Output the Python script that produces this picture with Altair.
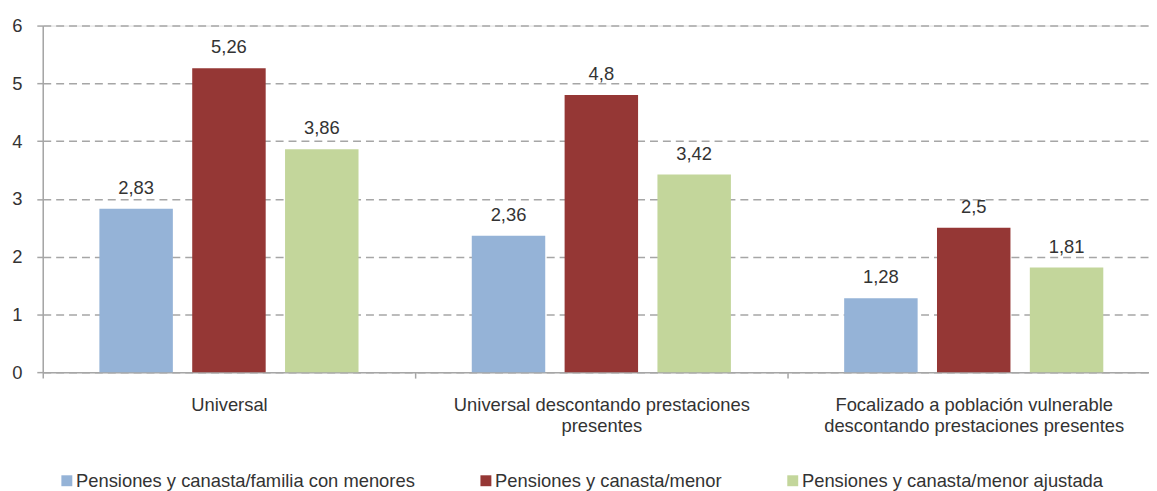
import altair as alt
import pandas as pd

# --- data -------------------------------------------------------------
group_lines = [
    ["Universal"],
    ["Universal descontando prestaciones", "presentes"],
    ["Focalizado a población vulnerable", "descontando prestaciones presentes"],
]
series = [
    "Pensiones y canasta/familia con menores",
    "Pensiones y canasta/menor",
    "Pensiones y canasta/menor ajustada",
]
values_familia = [2.83, 2.36, 1.28]
values_menor = [5.26, 4.8, 2.5]
values_ajustada = [3.86, 3.42, 1.81]
colors = ["#95B3D7", "#953735", "#C3D69B"]

groups = ["|".join(g) for g in group_lines]
rows = []
for s, vals in zip(series, [values_familia, values_menor, values_ajustada]):
    for g, v in zip(groups, vals):
        rows.append({"grupo": g, "serie": s, "valor": v})
df = pd.DataFrame(rows)

FONT = "Liberation Sans"
FS = 18.5
TXT = "#333333"
GRAY = "#A6A6A6"

x_enc = alt.X(
    "grupo:N",
    sort=groups,
    title=None,
    scale=alt.Scale(paddingInner=0, paddingOuter=0),
    axis=alt.Axis(
        labelAngle=0,
        tickBand="extent",
        labelExpr="split(datum.label, '|')",
        labelFont=FONT,
        labelFontSize=FS,
        labelColor=TXT,
        labelLineHeight=21,
        labelBaseline="alphabetic",
        labelPadding=33,
        tickSize=6,
        tickColor=GRAY,
        tickWidth=1.5,
        domainColor=GRAY,
        domainWidth=1.5,
        labelLimit=400,
    ),
)
xo_enc = alt.XOffset(
    "serie:N",
    sort=series,
    scale=alt.Scale(paddingInner=0.2086, paddingOuter=0.61),
)

base = alt.Chart(df)

bars = base.mark_bar().encode(
    x=x_enc,
    xOffset=xo_enc,
    y=alt.Y(
        "valor:Q",
        title=None,
        scale=alt.Scale(domain=[0, 6], nice=False),
        axis=alt.Axis(
            values=[0, 1, 2, 3, 4, 5, 6],
            format="d",
            labelFont=FONT,
            labelFontSize=FS,
            labelColor=TXT,
            labelPadding=15,
            tickSize=6,
            tickColor=GRAY,
            tickWidth=1.5,
            domainColor=GRAY,
            domainWidth=1.5,
            grid=True,
            gridColor=GRAY,
            gridDash=[8, 5],
            gridWidth=1.5,
        ),
    ),
    color=alt.Color(
        "serie:N",
        sort=series,
        scale=alt.Scale(domain=series, range=colors),
        legend=alt.Legend(
            title=None,
            orient="none",
            direction="horizontal",
            legendX=15,
            legendY=449,
            symbolType="square",
            symbolSize=121,
            symbolStrokeWidth=0,
            symbolOpacity=1,
            labelFont=FONT,
            labelFontSize=FS,
            labelColor=TXT,
            labelOffset=0,
            columnPadding=62,
            labelLimit=500,
            padding=0,
        ),
    ),
)

labels = base.mark_text(
    font=FONT, fontSize=FS, color=TXT, baseline="alphabetic", dy=-15
).transform_calculate(
    etiqueta="replace(toString(datum.valor), '.', ',')"
).encode(
    x=alt.X("grupo:N", sort=groups),
    xOffset=alt.XOffset("serie:N", sort=series),
    y=alt.Y("valor:Q"),
    text="etiqueta:N",
)

chart = (
    alt.layer(bars, labels)
    .properties(
        width=1125,
        height=349,
        autosize=alt.AutoSizeParams(type="none"),
        padding={"left": 35, "top": 16, "right": -11, "bottom": 118},
    )
    .configure_view(stroke=None)
    .configure(background="white")
)

chart.save("out.html", embed_options={"renderer": "svg", "actions": False})
